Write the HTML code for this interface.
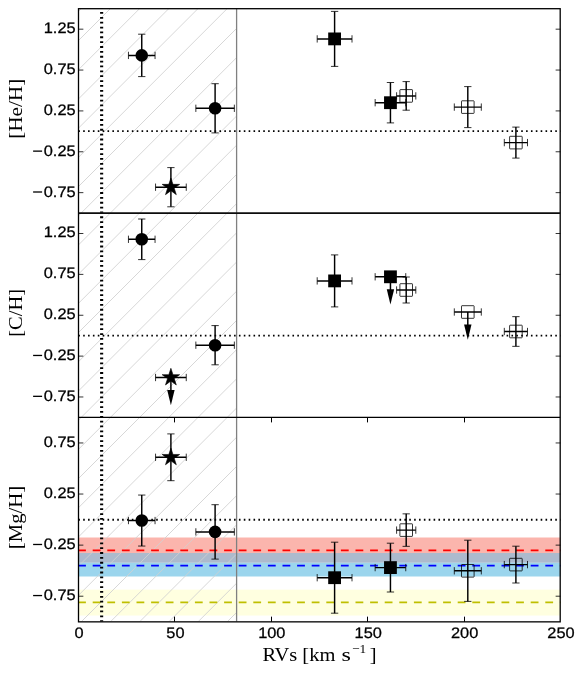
<!DOCTYPE html>
<html><head><meta charset="utf-8"><title>chart</title><style>html,body{margin:0;padding:0;background:#fff}svg{display:block}</style></head><body>
<svg width="582" height="674" viewBox="0 0 582 674">
<rect width="582" height="674" fill="#fff"/>
<defs>
<clipPath id="c0"><rect x="78.5" y="8.5" width="482.0" height="204.33"/></clipPath>
<clipPath id="h0"><rect x="78.5" y="8.5" width="158.10" height="204.33"/></clipPath>
<clipPath id="c1"><rect x="78.5" y="212.83" width="482.0" height="204.34"/></clipPath>
<clipPath id="h1"><rect x="78.5" y="212.83" width="158.10" height="204.34"/></clipPath>
<clipPath id="c2"><rect x="78.5" y="417.17" width="482.0" height="204.33"/></clipPath>
<clipPath id="h2"><rect x="78.5" y="417.17" width="158.10" height="204.33"/></clipPath>
</defs>
<rect x="78.5" y="537.50" width="482.0" height="15.50" fill="#fbb5ad" fill-opacity="1"/>
<rect x="78.5" y="553.00" width="482.0" height="9.80" fill="#acbacd" fill-opacity="1"/>
<rect x="78.5" y="562.80" width="482.0" height="13.70" fill="#9bd5ed" fill-opacity="1"/>
<rect x="78.5" y="589.60" width="482.0" height="25.95" fill="#ffffe0" fill-opacity="1"/>
<g clip-path="url(#h0)" stroke="#d0d0d0" stroke-width="0.85" fill="none">
<path d="M-154.23 214.83L54.10 6.50"/>
<path d="M-125.03 214.83L83.30 6.50"/>
<path d="M-95.83 214.83L112.50 6.50"/>
<path d="M-66.63 214.83L141.70 6.50"/>
<path d="M-37.43 214.83L170.90 6.50"/>
<path d="M-8.23 214.83L200.10 6.50"/>
<path d="M20.97 214.83L229.30 6.50"/>
<path d="M50.17 214.83L258.50 6.50"/>
<path d="M79.37 214.83L287.70 6.50"/>
<path d="M108.57 214.83L316.90 6.50"/>
<path d="M137.77 214.83L346.10 6.50"/>
<path d="M166.97 214.83L375.30 6.50"/>
<path d="M196.17 214.83L404.50 6.50"/>
<path d="M225.37 214.83L433.70 6.50"/>
<path d="M254.57 214.83L462.90 6.50"/>
</g>
<g clip-path="url(#h1)" stroke="#d0d0d0" stroke-width="0.85" fill="none">
<path d="M-183.37 419.17L24.97 210.83"/>
<path d="M-154.17 419.17L54.17 210.83"/>
<path d="M-124.97 419.17L83.37 210.83"/>
<path d="M-95.77 419.17L112.57 210.83"/>
<path d="M-66.57 419.17L141.77 210.83"/>
<path d="M-37.37 419.17L170.97 210.83"/>
<path d="M-8.17 419.17L200.17 210.83"/>
<path d="M21.03 419.17L229.37 210.83"/>
<path d="M50.23 419.17L258.57 210.83"/>
<path d="M79.43 419.17L287.77 210.83"/>
<path d="M108.63 419.17L316.97 210.83"/>
<path d="M137.83 419.17L346.17 210.83"/>
<path d="M167.03 419.17L375.37 210.83"/>
<path d="M196.23 419.17L404.57 210.83"/>
<path d="M225.43 419.17L433.77 210.83"/>
<path d="M254.63 419.17L462.97 210.83"/>
</g>
<g clip-path="url(#h2)" stroke="#d0d0d0" stroke-width="0.85" fill="none">
<path d="M-183.30 623.50L25.03 415.17"/>
<path d="M-154.10 623.50L54.23 415.17"/>
<path d="M-124.90 623.50L83.43 415.17"/>
<path d="M-95.70 623.50L112.63 415.17"/>
<path d="M-66.50 623.50L141.83 415.17"/>
<path d="M-37.30 623.50L171.03 415.17"/>
<path d="M-8.10 623.50L200.23 415.17"/>
<path d="M21.10 623.50L229.43 415.17"/>
<path d="M50.30 623.50L258.63 415.17"/>
<path d="M79.50 623.50L287.83 415.17"/>
<path d="M108.70 623.50L317.03 415.17"/>
<path d="M137.90 623.50L346.23 415.17"/>
<path d="M167.10 623.50L375.43 415.17"/>
<path d="M196.30 623.50L404.63 415.17"/>
<path d="M225.50 623.50L433.83 415.17"/>
<path d="M254.70 623.50L463.03 415.17"/>
</g>
<path d="M236.60 8.5V212.83" stroke="#808080" stroke-width="1.3"/>
<path d="M236.60 212.83V417.17" stroke="#808080" stroke-width="1.3"/>
<path d="M236.60 417.17V621.5" stroke="#808080" stroke-width="1.3"/>
<path d="M78.5 550.35H560.5" stroke="#ff0000" stroke-width="1.75" stroke-dasharray="7.8 6.8" stroke-dashoffset="0.4" fill="none"/>
<path d="M78.5 565.60H560.5" stroke="#0000ff" stroke-width="1.75" stroke-dasharray="7.8 6.8" stroke-dashoffset="0.4" fill="none"/>
<path d="M78.5 602.45H560.5" stroke="#bfbf00" stroke-width="1.75" stroke-dasharray="7.8 6.8" stroke-dashoffset="0.4" fill="none"/>
<path d="M78.5 131.20H560.5" stroke="#000" stroke-width="1.8" stroke-dasharray="1.6 3.267" stroke-dashoffset="0.2" fill="none"/>
<path d="M101.64 212.83V8.5" stroke="#000" stroke-width="3.1" stroke-dasharray="1.8 3.067" stroke-dashoffset="0.55" fill="none"/>
<path d="M78.5 335.53H560.5" stroke="#000" stroke-width="1.8" stroke-dasharray="1.6 3.267" stroke-dashoffset="0.2" fill="none"/>
<path d="M101.64 417.17V212.83" stroke="#000" stroke-width="3.1" stroke-dasharray="1.8 3.067" stroke-dashoffset="0.55" fill="none"/>
<path d="M78.5 519.74H560.5" stroke="#000" stroke-width="1.8" stroke-dasharray="1.6 3.267" stroke-dashoffset="0.2" fill="none"/>
<path d="M101.64 621.5V417.17" stroke="#000" stroke-width="3.1" stroke-dasharray="1.8 3.067" stroke-dashoffset="0.55" fill="none"/>
<g clip-path="url(#c0)">
<path d="M128.45 55.40H155.05" stroke="#000" stroke-width="1.45"/><path d="M128.45 51.75V59.05M155.05 51.75V59.05" stroke="#000" stroke-width="0.8"/><path d="M141.75 34.20V76.60" stroke="#000" stroke-width="1.45"/><path d="M138.10 34.20H145.40M138.10 76.60H145.40" stroke="#000" stroke-width="0.8"/>
<circle cx="141.75" cy="55.40" r="6.3" fill="#000"/>
<path d="M195.85 108.30H234.35" stroke="#000" stroke-width="1.45"/><path d="M195.85 104.65V111.95M234.35 104.65V111.95" stroke="#000" stroke-width="0.8"/><path d="M215.10 83.70V132.90" stroke="#000" stroke-width="1.45"/><path d="M211.45 83.70H218.75M211.45 132.90H218.75" stroke="#000" stroke-width="0.8"/>
<circle cx="215.10" cy="108.30" r="6.3" fill="#000"/>
<path d="M155.55 187.20H186.25" stroke="#000" stroke-width="1.45"/><path d="M155.55 183.55V190.85M186.25 183.55V190.85" stroke="#000" stroke-width="0.8"/><path d="M170.90 167.60V206.80" stroke="#000" stroke-width="1.45"/><path d="M167.25 167.60H174.55M167.25 206.80H174.55" stroke="#000" stroke-width="0.8"/>
<polygon points="170.90,178.00 168.83,184.36 162.15,184.36 167.56,188.29 165.49,194.64 170.90,190.71 176.31,194.64 174.24,188.29 179.65,184.36 172.97,184.36" fill="#000" stroke="#000" stroke-width="0.6" stroke-linejoin="miter" stroke-miterlimit="10"/>
<path d="M317.20 38.90H352.00" stroke="#000" stroke-width="1.45"/><path d="M317.20 35.25V42.55M352.00 35.25V42.55" stroke="#000" stroke-width="0.8"/><path d="M334.60 11.40V66.40" stroke="#000" stroke-width="1.45"/><path d="M330.95 11.40H338.25M330.95 66.40H338.25" stroke="#000" stroke-width="0.8"/>
<rect x="328.20" y="32.50" width="12.8" height="12.8" fill="#000"/>
<path d="M375.15 102.70H405.75" stroke="#000" stroke-width="1.45"/><path d="M375.15 99.05V106.35M405.75 99.05V106.35" stroke="#000" stroke-width="0.8"/><path d="M390.45 82.50V122.90" stroke="#000" stroke-width="1.45"/><path d="M386.80 82.50H394.10M386.80 122.90H394.10" stroke="#000" stroke-width="0.8"/>
<rect x="384.05" y="96.30" width="12.8" height="12.8" fill="#000"/>
<path d="M396.60 95.90H415.80" stroke="#000" stroke-width="1.45"/><path d="M396.60 92.25V99.55M415.80 92.25V99.55" stroke="#000" stroke-width="0.8"/><path d="M406.20 81.60V110.20" stroke="#000" stroke-width="1.45"/><path d="M402.55 81.60H409.85M402.55 110.20H409.85" stroke="#000" stroke-width="0.8"/>
<rect x="399.90" y="89.60" width="12.6" height="12.6" rx="0.5" fill="none" stroke="#000" stroke-width="0.8"/>
<path d="M454.30 107.10H481.30" stroke="#000" stroke-width="1.45"/><path d="M454.30 103.45V110.75M481.30 103.45V110.75" stroke="#000" stroke-width="0.8"/><path d="M467.80 86.60V127.60" stroke="#000" stroke-width="1.45"/><path d="M464.15 86.60H471.45M464.15 127.60H471.45" stroke="#000" stroke-width="0.8"/>
<rect x="461.50" y="100.80" width="12.6" height="12.6" rx="0.5" fill="none" stroke="#000" stroke-width="0.8"/>
<path d="M504.30 142.60H527.50" stroke="#000" stroke-width="1.45"/><path d="M504.30 138.95V146.25M527.50 138.95V146.25" stroke="#000" stroke-width="0.8"/><path d="M515.90 127.10V158.10" stroke="#000" stroke-width="1.45"/><path d="M512.25 127.10H519.55M512.25 158.10H519.55" stroke="#000" stroke-width="0.8"/>
<rect x="509.60" y="136.30" width="12.6" height="12.6" rx="0.5" fill="none" stroke="#000" stroke-width="0.8"/>
</g>
<g clip-path="url(#c1)">
<path d="M128.45 239.30H155.05" stroke="#000" stroke-width="1.45"/><path d="M128.45 235.65V242.95M155.05 235.65V242.95" stroke="#000" stroke-width="0.8"/><path d="M141.75 219.00V259.60" stroke="#000" stroke-width="1.45"/><path d="M138.10 219.00H145.40M138.10 259.60H145.40" stroke="#000" stroke-width="0.8"/>
<circle cx="141.75" cy="239.30" r="6.3" fill="#000"/>
<path d="M195.85 345.20H234.35" stroke="#000" stroke-width="1.45"/><path d="M195.85 341.55V348.85M234.35 341.55V348.85" stroke="#000" stroke-width="0.8"/><path d="M215.10 325.60V364.80" stroke="#000" stroke-width="1.45"/><path d="M211.45 325.60H218.75M211.45 364.80H218.75" stroke="#000" stroke-width="0.8"/>
<circle cx="215.10" cy="345.20" r="6.3" fill="#000"/>
<path d="M155.55 377.50H186.25" stroke="#000" stroke-width="1.45"/><path d="M155.55 373.85V381.15M186.25 373.85V381.15" stroke="#000" stroke-width="0.8"/>
<path d="M170.90 377.50V390.90" stroke="#000" stroke-width="1.5"/>
<polygon points="167.20,389.90 174.60,389.90 170.90,405.30" fill="#000"/>
<polygon points="170.90,368.30 168.83,374.66 162.15,374.66 167.56,378.59 165.49,384.94 170.90,381.01 176.31,384.94 174.24,378.59 179.65,374.66 172.97,374.66" fill="#000" stroke="#000" stroke-width="0.6" stroke-linejoin="miter" stroke-miterlimit="10"/>
<path d="M317.20 280.90H352.00" stroke="#000" stroke-width="1.45"/><path d="M317.20 277.25V284.55M352.00 277.25V284.55" stroke="#000" stroke-width="0.8"/><path d="M334.60 254.90V306.90" stroke="#000" stroke-width="1.45"/><path d="M330.95 254.90H338.25M330.95 306.90H338.25" stroke="#000" stroke-width="0.8"/>
<rect x="328.20" y="274.50" width="12.8" height="12.8" fill="#000"/>
<path d="M375.15 276.80H405.75" stroke="#000" stroke-width="1.45"/><path d="M375.15 273.15V280.45M405.75 273.15V280.45" stroke="#000" stroke-width="0.8"/>
<path d="M390.45 276.80V290.20" stroke="#000" stroke-width="1.5"/>
<polygon points="386.75,289.20 394.15,289.20 390.45,304.60" fill="#000"/>
<rect x="384.05" y="270.40" width="12.8" height="12.8" fill="#000"/>
<path d="M396.60 290.00H415.80" stroke="#000" stroke-width="1.45"/><path d="M396.60 286.35V293.65M415.80 286.35V293.65" stroke="#000" stroke-width="0.8"/><path d="M406.20 277.00V303.00" stroke="#000" stroke-width="1.45"/><path d="M402.55 277.00H409.85M402.55 303.00H409.85" stroke="#000" stroke-width="0.8"/>
<rect x="399.90" y="283.70" width="12.6" height="12.6" rx="0.5" fill="none" stroke="#000" stroke-width="0.8"/>
<path d="M454.30 312.00H481.30" stroke="#000" stroke-width="1.45"/><path d="M454.30 308.35V315.65M481.30 308.35V315.65" stroke="#000" stroke-width="0.8"/>
<path d="M467.80 312.00V325.40" stroke="#000" stroke-width="1.5"/>
<polygon points="464.10,324.40 471.50,324.40 467.80,339.80" fill="#000"/>
<rect x="461.50" y="305.70" width="12.6" height="12.6" rx="0.5" fill="none" stroke="#000" stroke-width="0.8"/>
<path d="M504.30 331.50H527.50" stroke="#000" stroke-width="1.45"/><path d="M504.30 327.85V335.15M527.50 327.85V335.15" stroke="#000" stroke-width="0.8"/><path d="M515.90 316.65V346.35" stroke="#000" stroke-width="1.45"/><path d="M512.25 316.65H519.55M512.25 346.35H519.55" stroke="#000" stroke-width="0.8"/>
<rect x="509.60" y="325.20" width="12.6" height="12.6" rx="0.5" fill="none" stroke="#000" stroke-width="0.8"/>
</g>
<g clip-path="url(#c2)">
<path d="M128.45 520.55H155.05" stroke="#000" stroke-width="1.45"/><path d="M128.45 516.90V524.20M155.05 516.90V524.20" stroke="#000" stroke-width="0.8"/><path d="M141.75 495.05V546.05" stroke="#000" stroke-width="1.45"/><path d="M138.10 495.05H145.40M138.10 546.05H145.40" stroke="#000" stroke-width="0.8"/>
<circle cx="141.75" cy="520.55" r="6.3" fill="#000"/>
<path d="M195.85 531.90H234.35" stroke="#000" stroke-width="1.45"/><path d="M195.85 528.25V535.55M234.35 528.25V535.55" stroke="#000" stroke-width="0.8"/><path d="M215.10 504.70V559.10" stroke="#000" stroke-width="1.45"/><path d="M211.45 504.70H218.75M211.45 559.10H218.75" stroke="#000" stroke-width="0.8"/>
<circle cx="215.10" cy="531.90" r="6.3" fill="#000"/>
<path d="M155.55 457.30H186.25" stroke="#000" stroke-width="1.45"/><path d="M155.55 453.65V460.95M186.25 453.65V460.95" stroke="#000" stroke-width="0.8"/><path d="M170.90 433.90V480.70" stroke="#000" stroke-width="1.45"/><path d="M167.25 433.90H174.55M167.25 480.70H174.55" stroke="#000" stroke-width="0.8"/>
<polygon points="170.90,448.10 168.83,454.46 162.15,454.46 167.56,458.39 165.49,464.74 170.90,460.81 176.31,464.74 174.24,458.39 179.65,454.46 172.97,454.46" fill="#000" stroke="#000" stroke-width="0.6" stroke-linejoin="miter" stroke-miterlimit="10"/>
<path d="M317.20 577.70H352.00" stroke="#000" stroke-width="1.45"/><path d="M317.20 574.05V581.35M352.00 574.05V581.35" stroke="#000" stroke-width="0.8"/><path d="M334.60 542.20V613.20" stroke="#000" stroke-width="1.45"/><path d="M330.95 542.20H338.25M330.95 613.20H338.25" stroke="#000" stroke-width="0.8"/>
<rect x="328.20" y="571.30" width="12.8" height="12.8" fill="#000"/>
<path d="M375.15 567.60H405.75" stroke="#000" stroke-width="1.45"/><path d="M375.15 563.95V571.25M405.75 563.95V571.25" stroke="#000" stroke-width="0.8"/><path d="M390.45 543.20V592.00" stroke="#000" stroke-width="1.45"/><path d="M386.80 543.20H394.10M386.80 592.00H394.10" stroke="#000" stroke-width="0.8"/>
<rect x="384.05" y="561.20" width="12.8" height="12.8" fill="#000"/>
<path d="M396.60 530.10H415.80" stroke="#000" stroke-width="1.45"/><path d="M396.60 526.45V533.75M415.80 526.45V533.75" stroke="#000" stroke-width="0.8"/><path d="M406.20 513.85V546.35" stroke="#000" stroke-width="1.45"/><path d="M402.55 513.85H409.85M402.55 546.35H409.85" stroke="#000" stroke-width="0.8"/>
<rect x="399.90" y="523.80" width="12.6" height="12.6" rx="0.5" fill="none" stroke="#000" stroke-width="0.8"/>
<path d="M454.30 570.80H481.30" stroke="#000" stroke-width="1.45"/><path d="M454.30 567.15V574.45M481.30 567.15V574.45" stroke="#000" stroke-width="0.8"/><path d="M467.80 540.20V601.40" stroke="#000" stroke-width="1.45"/><path d="M464.15 540.20H471.45M464.15 601.40H471.45" stroke="#000" stroke-width="0.8"/>
<rect x="461.50" y="564.50" width="12.6" height="12.6" rx="0.5" fill="none" stroke="#000" stroke-width="0.8"/>
<path d="M504.30 564.60H527.50" stroke="#000" stroke-width="1.45"/><path d="M504.30 560.95V568.25M527.50 560.95V568.25" stroke="#000" stroke-width="0.8"/><path d="M515.90 546.20V583.00" stroke="#000" stroke-width="1.45"/><path d="M512.25 546.20H519.55M512.25 583.00H519.55" stroke="#000" stroke-width="0.8"/>
<rect x="509.60" y="558.30" width="12.6" height="12.6" rx="0.5" fill="none" stroke="#000" stroke-width="0.8"/>
</g>
<rect x="78.5" y="8.7" width="481.70" height="613.15" fill="none" stroke="#000" stroke-width="1.3"/>
<path d="M78.5 213.1H560.2" stroke="#0c0c0c" stroke-width="1.7"/>
<path d="M78.5 417.4H560.2" stroke="#000" stroke-width="1.4"/>
<path d="M78.5 29.18h4.87M560.5 29.18h-4.87M78.5 70.05h4.87M560.5 70.05h-4.87M78.5 110.92h4.87M560.5 110.92h-4.87M78.5 151.78h4.87M560.5 151.78h-4.87M78.5 192.65h4.87M560.5 192.65h-4.87M78.5 233.51h4.87M560.5 233.51h-4.87M78.5 274.38h4.87M560.5 274.38h-4.87M78.5 315.25h4.87M560.5 315.25h-4.87M78.5 356.11h4.87M560.5 356.11h-4.87M78.5 396.98h4.87M560.5 396.98h-4.87M78.5 442.96h4.87M560.5 442.96h-4.87M78.5 494.04h4.87M560.5 494.04h-4.87M78.5 545.13h4.87M560.5 545.13h-4.87M78.5 596.21h4.87M560.5 596.21h-4.87" stroke="#000" stroke-width="0.8" fill="none"/>
<path d="M174.50 417.4v5M174.50 621.85v-5.2M271.50 417.4v5M271.50 621.85v-5.2M367.50 417.4v5M367.50 621.85v-5.2M464.50 417.4v5M464.50 621.85v-5.2" stroke="#000" stroke-width="1" fill="none"/>
<g style="filter:grayscale(1)" text-rendering="geometricPrecision" font-family="Liberation Sans, sans-serif" font-size="15.2" fill="#000" stroke="#000" stroke-width="0.28">
<text x="43.75" y="33.08" textLength="31.85" lengthAdjust="spacingAndGlyphs">1.25</text>
<text x="43.75" y="73.95" textLength="31.85" lengthAdjust="spacingAndGlyphs">0.75</text>
<text x="43.75" y="114.82" textLength="31.85" lengthAdjust="spacingAndGlyphs">0.25</text>
<text x="43.75" y="155.68" textLength="31.85" lengthAdjust="spacingAndGlyphs">0.25</text>
<rect x="33.1" y="150.48" width="9.0" height="1.3" stroke="none"/>
<text x="43.75" y="196.55" textLength="31.85" lengthAdjust="spacingAndGlyphs">0.75</text>
<rect x="33.1" y="191.35" width="9.0" height="1.3" stroke="none"/>
<text x="43.75" y="237.41" textLength="31.85" lengthAdjust="spacingAndGlyphs">1.25</text>
<text x="43.75" y="278.28" textLength="31.85" lengthAdjust="spacingAndGlyphs">0.75</text>
<text x="43.75" y="319.15" textLength="31.85" lengthAdjust="spacingAndGlyphs">0.25</text>
<text x="43.75" y="360.01" textLength="31.85" lengthAdjust="spacingAndGlyphs">0.25</text>
<rect x="33.1" y="354.81" width="9.0" height="1.3" stroke="none"/>
<text x="43.75" y="400.88" textLength="31.85" lengthAdjust="spacingAndGlyphs">0.75</text>
<rect x="33.1" y="395.68" width="9.0" height="1.3" stroke="none"/>
<text x="43.75" y="446.86" textLength="31.85" lengthAdjust="spacingAndGlyphs">0.75</text>
<text x="43.75" y="497.94" textLength="31.85" lengthAdjust="spacingAndGlyphs">0.25</text>
<text x="43.75" y="549.03" textLength="31.85" lengthAdjust="spacingAndGlyphs">0.25</text>
<rect x="33.1" y="543.83" width="9.0" height="1.3" stroke="none"/>
<text x="43.75" y="600.11" textLength="31.85" lengthAdjust="spacingAndGlyphs">0.75</text>
<rect x="33.1" y="594.91" width="9.0" height="1.3" stroke="none"/>
<text x="74.45" y="638.0" textLength="9.10" lengthAdjust="spacingAndGlyphs">0</text>
<text x="166.30" y="638.0" textLength="18.20" lengthAdjust="spacingAndGlyphs">50</text>
<text x="258.15" y="638.0" textLength="27.30" lengthAdjust="spacingAndGlyphs">100</text>
<text x="354.55" y="638.0" textLength="27.30" lengthAdjust="spacingAndGlyphs">150</text>
<text x="450.95" y="638.0" textLength="27.30" lengthAdjust="spacingAndGlyphs">200</text>
<text x="547.35" y="638.0" textLength="27.30" lengthAdjust="spacingAndGlyphs">250</text>
</g>
<g style="filter:grayscale(1)" font-family="Liberation Serif, serif" font-size="18.7" fill="#000">
<text x="262.4" y="661.2" textLength="73.0" lengthAdjust="spacingAndGlyphs">RVs [km</text>
<text x="341.5" y="661.2" textLength="9.4" lengthAdjust="spacingAndGlyphs">s</text>
<text x="351.9" y="653.3" font-size="12.5" textLength="14.2" lengthAdjust="spacingAndGlyphs">−1</text>
<text x="369.7" y="661.2" textLength="6.8" lengthAdjust="spacingAndGlyphs">]</text>
<text transform="translate(22.3 138.85) rotate(-90)" textLength="60.07" lengthAdjust="spacingAndGlyphs">[He/H]</text>
<text transform="translate(22.3 336.75) rotate(-90)" textLength="47.87" lengthAdjust="spacingAndGlyphs">[C/H]</text>
<text transform="translate(22.3 549.15) rotate(-90)" textLength="63.4" lengthAdjust="spacingAndGlyphs">[Mg/H]</text>
</g>
</svg>
</body></html>
